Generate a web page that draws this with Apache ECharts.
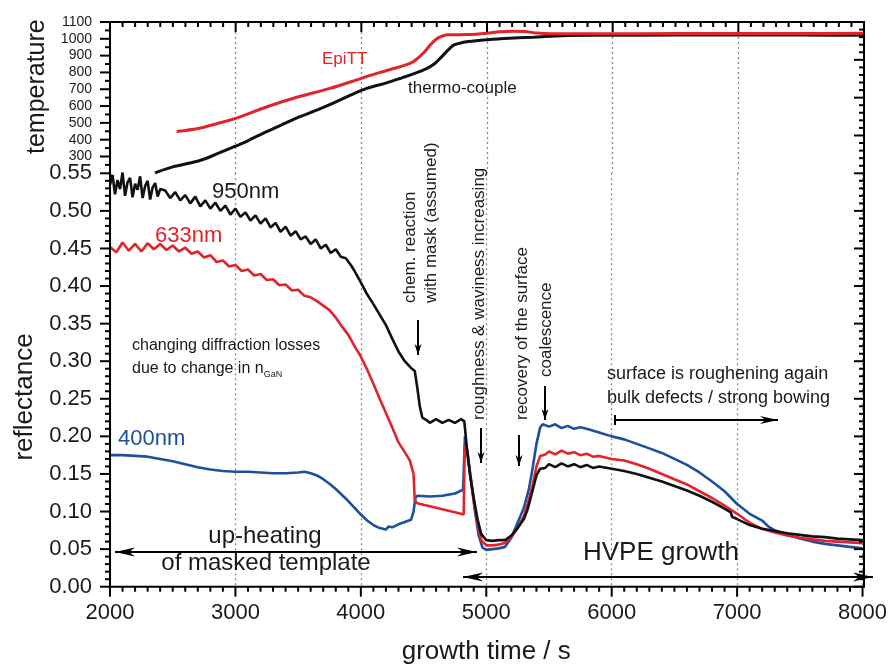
<!DOCTYPE html>
<html><head><meta charset="utf-8">
<script src="https://cdn.jsdelivr.net/npm/echarts@6/dist/echarts.min.js"></script>
<style>html,body{margin:0;padding:0;background:#fff}#c{width:890px;height:671px}</style>
</head><body><div id="c"></div><script>
// ---------- data ----------
const epiTime = [2530, 2700, 2850, 3000, 3250, 3500, 3750, 4000, 4150, 4300, 4400, 4450, 4500, 4550, 4600, 4650, 4700, 4850, 5000, 5100, 5200, 5300, 5400, 5500, 6000, 6500, 7000, 7500, 8000];
const epiTemp = [448, 466, 495, 527, 596, 655, 705, 765, 800, 832, 858, 885, 920, 965, 1000, 1018, 1024, 1025, 1033, 1042, 1045, 1043, 1034, 1030, 1030, 1031, 1032, 1032, 1033];

const tcTime = [2358, 2500, 2716, 2850, 2979, 3100, 3246, 3400, 3511, 3650, 3776, 3900, 4043, 4200, 4307, 4420, 4519, 4580, 4625, 4680, 4731, 4790, 4837, 4950, 5103, 5250, 5369, 5500, 5634, 5900, 6500, 7000, 7500, 8000];
const tcTemp = [203, 238, 276, 315, 355, 395, 448, 500, 537, 577, 617, 660, 705, 738, 764, 793, 823, 850, 882, 925, 961, 975, 982, 992, 1000, 1006, 1010, 1015, 1020, 1021, 1022, 1022, 1022, 1021];

const t950 = [2000, 2020, 2040, 2060, 2080, 2100, 2120, 2140, 2160, 2180, 2200, 2220, 2240, 2260, 2280, 2300, 2320, 2340, 2360, 2380, 2400, 2440, 2480, 2520, 2560, 2600, 2640, 2680, 2720, 2760, 2800, 2840, 2880, 2920, 2960, 3000, 3040, 3080, 3120, 3160, 3200, 3240, 3280, 3320, 3360, 3400, 3440, 3480, 3520, 3560, 3600, 3640, 3680, 3720, 3760, 3800, 3840, 3880, 3920, 3950, 4000, 4050, 4100, 4150, 4200, 4250, 4300, 4350, 4400, 4430, 4450, 4470, 4490, 4520, 4550, 4600, 4650, 4700, 4750, 4800, 4825, 4845, 4870, 4900, 4930, 4960, 5000, 5050, 5100, 5150, 5200, 5250, 5300, 5330, 5360, 5400, 5430, 5470, 5500, 5550, 5600, 5650, 5700, 5750, 5800, 5850, 5900, 6000, 6100, 6200, 6300, 6400, 6500, 6600, 6700, 6800, 6900, 6950, 6960, 7000, 7100, 7200, 7300, 7400, 7500, 7600, 7700, 7800, 7900, 8000];
const r950 = [0.535, 0.548, 0.522, 0.541, 0.529, 0.551, 0.520, 0.538, 0.544, 0.518, 0.536, 0.528, 0.546, 0.517, 0.533, 0.540, 0.515, 0.531, 0.537, 0.519, 0.529, 0.527, 0.517, 0.525, 0.514, 0.521, 0.510, 0.519, 0.506, 0.514, 0.503, 0.511, 0.500, 0.507, 0.495, 0.503, 0.492, 0.498, 0.487, 0.494, 0.483, 0.490, 0.478, 0.484, 0.472, 0.479, 0.467, 0.473, 0.462, 0.466, 0.456, 0.462, 0.450, 0.455, 0.444, 0.449, 0.439, 0.437, 0.428, 0.420, 0.405, 0.389, 0.376, 0.362, 0.348, 0.330, 0.313, 0.300, 0.291, 0.287, 0.265, 0.240, 0.225, 0.222, 0.218, 0.223, 0.218, 0.222, 0.218, 0.223, 0.220, 0.185, 0.150, 0.118, 0.090, 0.070, 0.062, 0.061, 0.062, 0.062, 0.068, 0.078, 0.090, 0.103, 0.122, 0.148, 0.157, 0.158, 0.163, 0.159, 0.164, 0.160, 0.163, 0.159, 0.162, 0.158, 0.160, 0.157, 0.154, 0.150, 0.145, 0.140, 0.134, 0.128, 0.121, 0.113, 0.104, 0.099, 0.093, 0.090, 0.082, 0.077, 0.074, 0.071, 0.069, 0.067, 0.066, 0.064, 0.063, 0.062];

const t633 = [2000, 2050, 2100, 2150, 2200, 2250, 2300, 2350, 2400, 2450, 2500, 2550, 2600, 2650, 2700, 2750, 2800, 2850, 2900, 2950, 3000, 3050, 3100, 3150, 3200, 3250, 3300, 3350, 3400, 3450, 3500, 3550, 3600, 3650, 3700, 3750, 3800, 3850, 3900, 3950, 4000, 4050, 4100, 4150, 4200, 4250, 4300, 4350, 4390, 4420, 4430, 4450, 4550, 4650, 4750, 4820, 4828, 4845, 4870, 4900, 4930, 4960, 5000, 5050, 5100, 5150, 5200, 5250, 5300, 5330, 5370, 5400, 5430, 5470, 5500, 5550, 5600, 5650, 5700, 5750, 5800, 5850, 5900, 6000, 6100, 6200, 6300, 6400, 6500, 6600, 6700, 6800, 6900, 7000, 7100, 7200, 7300, 7400, 7500, 7600, 7700, 7800, 7900, 8000];
const r633 = [0.452, 0.445, 0.458, 0.447, 0.456, 0.446, 0.457, 0.449, 0.456, 0.448, 0.454, 0.446, 0.451, 0.443, 0.446, 0.438, 0.441, 0.432, 0.434, 0.426, 0.428, 0.420, 0.422, 0.414, 0.416, 0.408, 0.409, 0.401, 0.402, 0.394, 0.395, 0.387, 0.385, 0.380, 0.374, 0.368, 0.358, 0.346, 0.335, 0.320, 0.306, 0.289, 0.270, 0.250, 0.231, 0.212, 0.192, 0.179, 0.168, 0.150, 0.115, 0.111, 0.107, 0.103, 0.099, 0.096, 0.188, 0.182, 0.150, 0.115, 0.085, 0.062, 0.055, 0.055, 0.056, 0.058, 0.066, 0.078, 0.094, 0.110, 0.135, 0.160, 0.174, 0.176, 0.180, 0.176, 0.181, 0.177, 0.179, 0.175, 0.177, 0.173, 0.174, 0.170, 0.168, 0.163, 0.157, 0.150, 0.143, 0.136, 0.127, 0.118, 0.108, 0.097, 0.085, 0.077, 0.072, 0.068, 0.065, 0.063, 0.061, 0.060, 0.059, 0.058];

const t400 = [2000, 2100, 2200, 2300, 2400, 2500, 2600, 2700, 2800, 2900, 3000, 3100, 3200, 3300, 3400, 3500, 3550, 3600, 3650, 3700, 3750, 3800, 3850, 3900, 3950, 4000, 4050, 4100, 4150, 4200, 4220, 4250, 4300, 4350, 4400, 4420, 4435, 4450, 4550, 4650, 4750, 4815, 4830, 4850, 4880, 4910, 4940, 4970, 5000, 5050, 5100, 5150, 5200, 5250, 5300, 5340, 5370, 5400, 5430, 5450, 5500, 5550, 5600, 5650, 5700, 5750, 5800, 5900, 6000, 6100, 6200, 6300, 6400, 6500, 6600, 6700, 6800, 6900, 7000, 7100, 7200, 7250, 7300, 7400, 7500, 7600, 7700, 7800, 7900, 8000];
const r400 = [0.175, 0.175, 0.174, 0.173, 0.170, 0.167, 0.163, 0.159, 0.156, 0.154, 0.153, 0.153, 0.152, 0.151, 0.151, 0.152, 0.153, 0.151, 0.148, 0.143, 0.137, 0.130, 0.122, 0.114, 0.105, 0.096, 0.088, 0.082, 0.078, 0.076, 0.080, 0.079, 0.083, 0.086, 0.089, 0.100, 0.118, 0.121, 0.120, 0.121, 0.124, 0.129, 0.200, 0.180, 0.140, 0.100, 0.068, 0.052, 0.049, 0.050, 0.051, 0.053, 0.065, 0.085, 0.105, 0.130, 0.158, 0.190, 0.212, 0.216, 0.213, 0.216, 0.211, 0.214, 0.210, 0.212, 0.210, 0.205, 0.200, 0.196, 0.190, 0.184, 0.178, 0.170, 0.162, 0.152, 0.140, 0.127, 0.110, 0.097, 0.088, 0.080, 0.075, 0.069, 0.064, 0.060, 0.057, 0.055, 0.053, 0.051];

const xTicks = {min: 2000, max: 8000, step: 1000, minorStep: 100};
const tempTicks = {min: 200, max: 1100, step: 100, minorStep: 50};
const reflTicks = {min: 0, max: 0.55, step: 0.05, minorStep: 0.01};
const reflUpper = {min: 0.55, max: 0.75, step: 0.05};

// ---------- chart ----------
const zip = (a, b) => a.map((v, i) => [v, b[i]]);
const FONT = 'Liberation Sans, Arial, sans-serif';
const BLK = '#111', RED = '#e2232a', BLUE = '#1d4f9e';
const chart = echarts.init(document.getElementById('c'));

const split = () => ({show: true, lineStyle: {color: '#8a8a8a', type: [2, 3], width: 1.3}});
const off = () => ({show: false});

chart.setOption({
  animation: false,
  textStyle: {fontFamily: FONT},
  grid: [
    {left: 110, right: 26, top: 22, height: 151.3},
    {left: 110, right: 26, top: 173.3, bottom: 84.3}
  ],
  xAxis: [
    {gridIndex: 0, type: 'value', position: 'top', min: xTicks.min, max: xTicks.max, interval: xTicks.step,
     axisLine: off(), axisTick: off(), minorTick: off(), axisLabel: {show: false}, splitLine: split()},
    {gridIndex: 1, type: 'value', position: 'bottom', min: xTicks.min, max: xTicks.max, interval: xTicks.step,
     axisLine: off(), axisTick: off(), minorTick: off(),
     axisLabel: {fontSize: 22, color: '#1a1a1a', margin: 15, formatter: v => String(v)}, splitLine: split(),
     name: 'growth time / s', nameLocation: 'middle', nameGap: 52,
     nameTextStyle: {fontSize: 26, color: '#1a1a1a'}}
  ],
  yAxis: [
    {gridIndex: 0, type: 'value', position: 'left', min: tempTicks.min, max: tempTicks.max, interval: tempTicks.step,
     axisLine: off(), axisTick: off(), minorTick: off(),
     axisLabel: {fontSize: 14, color: '#1a1a1a', margin: 18, formatter: v => v === tempTicks.min ? '' : String(v)},
     splitLine: {show: false},
     name: 'temperature', nameLocation: 'middle', nameGap: 40,
     nameTextStyle: {fontSize: 25, color: '#1a1a1a', padding: [0, 0, 0, 22]}},
    {gridIndex: 0, type: 'value', position: 'right', min: reflUpper.min, max: reflUpper.max, interval: reflUpper.step,
     axisLine: off(), axisTick: off(), minorTick: off(), axisLabel: {show: false}, splitLine: {show: false}},
    {gridIndex: 1, type: 'value', position: 'left', min: reflTicks.min, max: reflTicks.max, interval: reflTicks.step,
     axisLine: off(), axisTick: off(), minorTick: off(),
     axisLabel: {fontSize: 22, color: '#1a1a1a', margin: 18, formatter: v => v.toFixed(2)},
     splitLine: {show: false},
     name: 'reflectance', nameLocation: 'middle', nameGap: 62,
     nameTextStyle: {fontSize: 26, color: '#1a1a1a', padding: [0, 34, 0, 0]}},
    {gridIndex: 1, type: 'value', position: 'right', min: reflTicks.min, max: reflTicks.max, interval: reflTicks.step,
     axisLine: off(), axisTick: off(), minorTick: off(), axisLabel: {show: false}, splitLine: {show: false}}
  ],
  series: [
    {name: 'thermo-couple', type: 'line', xAxisIndex: 0, yAxisIndex: 0, data: zip(tcTime, tcTemp),
     showSymbol: false, smooth: 0.3, lineStyle: {color: BLK, width: 3}},
    {name: 'EpiTT', type: 'line', xAxisIndex: 0, yAxisIndex: 0, data: zip(epiTime, epiTemp),
     showSymbol: false, smooth: 0.3, lineStyle: {color: RED, width: 3}},
    {name: '400nm', type: 'line', xAxisIndex: 1, yAxisIndex: 2, data: zip(t400, r400),
     showSymbol: false, lineStyle: {color: BLUE, width: 2.6}},
    {name: '633nm', type: 'line', xAxisIndex: 1, yAxisIndex: 2, data: zip(t633, r633),
     showSymbol: false, lineStyle: {color: RED, width: 2.6}},
    {name: '950nm', type: 'line', xAxisIndex: 1, yAxisIndex: 2, data: zip(t950, r950),
     showSymbol: false, lineStyle: {color: BLK, width: 2.6}}
  ]
});

// ---------- frame and ticks (positions from the axes) ----------
const P = (xi, yi, x, y) => chart.convertToPixel({xAxisIndex: xi, yAxisIndex: yi}, [x, y]);
const seg = (x1, y1, x2, y2) => ({type: 'line', z: 90, shape: {x1: x1, y1: y1, x2: x2, y2: y2}, style: {stroke: '#000', lineWidth: 2}});
const frame = [];
const BL = P(1, 2, xTicks.min, reflTicks.min), TR = P(0, 0, xTicks.max, tempTicks.max);
const xl = BL[0], yb = BL[1], xr = TR[0], yt = TR[1];
frame.push({type: 'rect', z: 90, shape: {x: xl, y: yt, width: xr - xl, height: yb - yt}, style: {fill: 'none', stroke: '#000', lineWidth: 2}});
const MAJ = 10, MIN = 5;
const nX = Math.round((xTicks.max - xTicks.min) / xTicks.minorStep), perX = Math.round(xTicks.step / xTicks.minorStep);
for (let k = 0; k <= nX; k++) {
  const t = xTicks.min + k * xTicks.minorStep, len = k % perX === 0 ? MAJ : MIN;
  const xb = P(1, 2, t, 0)[0], xtop = P(0, 0, t, tempTicks.max)[0];
  frame.push(seg(xb, yb, xb, yb + len));
  frame.push(seg(xtop, yt, xtop, yt + len));
}
const nR = Math.round((reflTicks.max - reflTicks.min) / reflTicks.minorStep), perR = Math.round(reflTicks.step / reflTicks.minorStep);
for (let i = 0; i <= nR; i++) {
  const v = reflTicks.min + i * reflTicks.minorStep, len = i % perR === 0 ? MAJ : MIN;
  const y = P(1, 2, xTicks.min, v)[1];
  frame.push(seg(xl - len, y, xl, y));
  frame.push(seg(xr - len, y, xr, y));
}
const nU = Math.round((reflUpper.max - reflUpper.min) / reflTicks.minorStep);
for (let i = 1; i <= nU; i++) {
  const v = reflUpper.min + i * reflTicks.minorStep, len = i % perR === 0 ? MAJ : MIN;
  const y = P(0, 1, xTicks.max, v)[1];
  frame.push(seg(xr - len, y, xr, y));
}
const nT = Math.round((tempTicks.max - tempTicks.min) / tempTicks.minorStep), perT = Math.round(tempTicks.step / tempTicks.minorStep);
for (let j = 1; j <= nT; j++) {
  const v = tempTicks.min + j * tempTicks.minorStep, len = j % perT === 0 ? MAJ : MIN;
  const y = P(0, 0, xTicks.min, v)[1];
  frame.push(seg(xl - len, y, xl, y));
}

// ---------- annotations ----------
function txt(s, x, y, size, color, opts) {
  opts = opts || {};
  const st = {text: s, font: size + 'px ' + FONT, fill: color || '#1a1a1a',
      textAlign: opts.align || 'left', textVerticalAlign: 'middle', align: opts.align || 'left', verticalAlign: 'middle'};
  if (opts.rich) st.rich = opts.rich;
  return {type: 'text', x: x, y: y, rotation: opts.rot || 0, z: 100, style: st};
}
function head(x1, y1, x2, y2, L, W) {
  const len = Math.hypot(x2 - x1, y2 - y1), dx = (x2 - x1) / len, dy = (y2 - y1) / len;
  const nx = -dy, ny = dx;
  const bx = x2 - dx * L, by = y2 - dy * L, mx = x2 - dx * L * 0.7, my = y2 - dy * L * 0.7;
  return {type: 'polygon', z: 100, shape: {points: [[x2, y2], [bx + nx * W / 2, by + ny * W / 2], [mx, my], [bx - nx * W / 2, by - ny * W / 2]]},
    style: {fill: '#000'}};
}
function arrow(x1, y1, x2, y2, L, W, both) {
  const els = [{type: 'line', z: 100, shape: {x1: x1, y1: y1, x2: x2, y2: y2}, style: {stroke: '#000', lineWidth: 2}}];
  els.push(head(x1, y1, x2, y2, L, W));
  if (both) els.push(head(x2, y2, x1, y1, L, W));
  return els;
}
const R = Math.PI / 2;
const g = frame.concat([
  txt('EpiTT', 322, 59, 17, RED),
  txt('thermo-couple', 408, 88, 17),
  txt('950nm', 212, 192, 22),
  txt('633nm', 155, 236, 22, RED),
  txt('400nm', 118, 439, 22, BLUE),
  txt('changing diffraction losses', 132, 346, 16),
  txt('due to change in n{s|GaN}', 132, 369, 16, null,
      {rich: {s: {fontSize: 9, fontFamily: FONT, fill: '#1a1a1a', padding: [11, 0, 0, 0]}}}),
  txt('chem. reaction', 410, 303, 17, null, {rot: R}),
  txt('with mask (assumed)', 431, 303, 17, null, {rot: R}),
  txt('roughness & waviness increasing', 479, 420, 17, null, {rot: R}),
  txt('recovery of the surface', 522, 420, 17, null, {rot: R}),
  txt('coalescence', 546, 377, 17, null, {rot: R}),
  txt('surface is roughening again', 607, 374, 18),
  txt('bulk defects / strong bowing', 607, 398, 18),
  txt('up-heating', 265, 536, 24, null, {align: 'center'}),
  txt('of masked template', 266, 563, 24, null, {align: 'center'}),
  txt('HVPE growth', 583, 553, 26)
]).concat(
  arrow(418, 320, 418, 355, 11, 7),
  arrow(481, 428, 481, 463, 11, 7),
  arrow(519, 435, 519, 466, 11, 7),
  arrow(545, 386, 545, 420, 11, 7),
  arrow(615, 420, 778, 420, 18, 8),
  [{type: 'line', z: 100, shape: {x1: 615, y1: 415, x2: 615, y2: 425}, style: {stroke: '#000', lineWidth: 2}}],
  arrow(115, 552, 477, 552, 20, 9, true),
  arrow(873, 577, 463, 577, 20, 9, true)
);
chart.setOption({graphic: g});
</script></body></html>
